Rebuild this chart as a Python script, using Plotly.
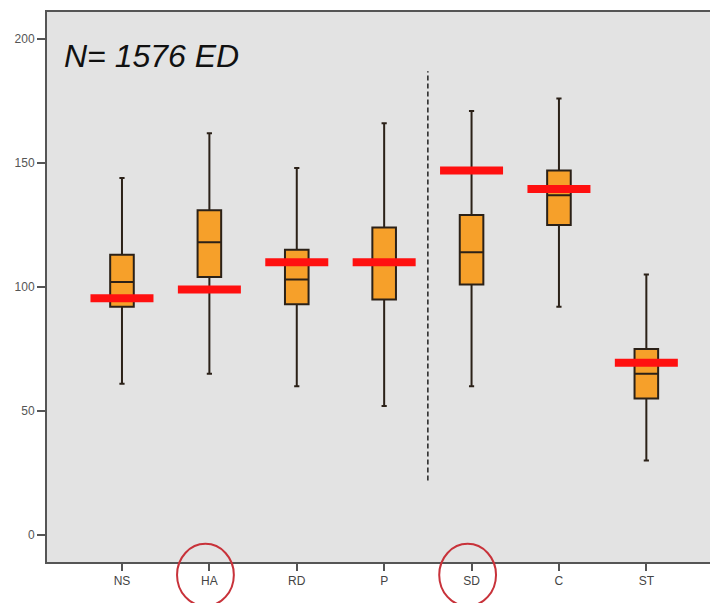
import plotly.graph_objects as go

categories = ["NS", "HA", "RD", "P", "SD", "C", "ST"]
upper_whisker = [144, 162, 148, 166, 171, 176, 105]
q3 = [113, 131, 115, 124, 129, 147, 75]
median = [102, 118, 103, 110, 114, 137, 65]
q1 = [92, 104, 93, 95, 101, 125, 55]
lower_whisker = [61, 65, 60, 52, 60, 92, 30]
reference_line = [95.5, 99, 110, 110, 147, 139.5, 69.5]
y_ticks = [0, 50, 100, 150, 200]
highlighted = ["HA", "SD"]
title_text = "N= 1576 ED"

xpos = list(range(len(categories)))

fig = go.Figure()

fig.add_trace(go.Box(
    x=xpos,
    q1=q1, median=median, q3=q3,
    lowerfence=lower_whisker, upperfence=upper_whisker,
    fillcolor="#F6A02A",
    line=dict(color="#2b2118", width=2),
    width=0.27,
    whiskerwidth=0.22,
    boxpoints=False,
    showlegend=False,
    hoverinfo="skip",
))

fig.add_trace(go.Scatter(
    x=xpos, y=reference_line,
    mode="markers",
    marker=dict(symbol="line-ew", size=45, color="#FF0000",
                line=dict(color="#FF1010", width=8)),
    showlegend=False,
    hoverinfo="skip",
))

shapes = [dict(type="line", xref="x", yref="y", x0=3.5, x1=3.5, y0=22, y1=187,
               line=dict(color="#222222", width=1.5, dash="5px,3px"))]
for name in highlighted:
    i = categories.index(name)
    shapes.append(dict(type="circle", xref="x", yref="paper",
                       x0=i - 0.37, x1=i + 0.28, y0=-0.08, y1=0.033,
                       line=dict(color="#C8323A", width=2)))

fig.update_layout(
    width=710, height=595,
    margin=dict(l=39, r=0, t=4, b=41),
    paper_bgcolor="white",
    plot_bgcolor="#E3E3E3",
    shapes=shapes,
    annotations=[dict(x=-0.69, y=193, xref="x", yref="y", xanchor="left", yanchor="middle",
                      text=title_text, showarrow=False,
                      font=dict(family="Liberation Sans, Arial",
                                size=32, color="#111111", style="italic"))],
    xaxis=dict(
        range=[-0.858, 6.82],
        tickmode="array", tickvals=xpos, ticktext=categories,
        showgrid=False, zeroline=False,
        showline=True, linecolor="#555555", linewidth=2, mirror=True,
        ticks="outside", ticklen=7, tickcolor="#555555", tickwidth=1.5,
        tickfont=dict(family="Liberation Sans, Arial", size=12, color="#444444"),
    ),
    yaxis=dict(
        range=[-10.9, 210.9],
        tickmode="array", tickvals=y_ticks,
        showgrid=False, zeroline=False,
        showline=True, linecolor="#555555", linewidth=2,
        ticks="outside", ticklen=8, tickcolor="#555555", tickwidth=1.5,
        tickfont=dict(family="Liberation Sans, Arial", size=12, color="#555555"),
    ),
)

fig.write_html("out.html")
